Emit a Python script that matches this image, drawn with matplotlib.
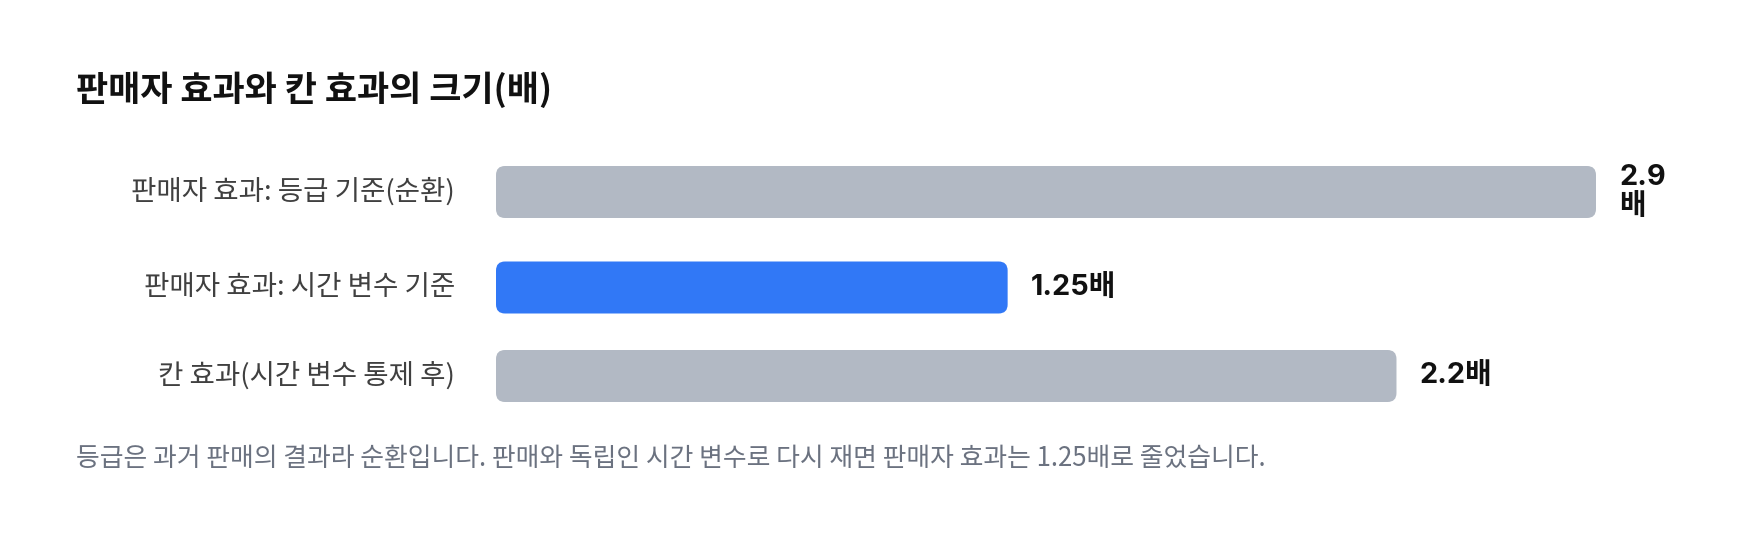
import matplotlib
matplotlib.use("Agg")
import matplotlib.pyplot as plt
from matplotlib.patches import FancyBboxPatch
from matplotlib import transforms

plt.rcParams['font.family'] = ['Noto Sans CJK KR', 'DejaVu Sans']

# data
categories = ["판매자 효과: 등급 기준(순환)", "판매자 효과: 시간 변수 기준", "칸 효과(시간 변수 통제 후)"]
values = [2.9, 1.25, 2.2]
value_labels = ["2.9배", "1.25배", "2.2배"]
highlight = [False, True, False]

title = "판매자 효과와 칸 효과의 크기(배)"
note = "등급은 과거 판매의 결과라 순환입니다. 판매와 독립인 시간 변수로 다시 재면 판매자 효과는 1.25배로 줄었습니다."

# layout in pixels
W, H = 1760, 536
track_left, track_w = 496, 1187
bar_h, line_h, row_gap = 52, 33, 36.5
first_top = 159
reserve_px = 87          # room kept for a value label at the end of the track
radius = 9

grey = "#b2b9c4"
blue = "#3178f6"

fig = plt.figure(figsize=(W / 100, H / 100), dpi=100)
ax = fig.add_axes([track_left / W, 0, track_w / W, 1])
xmax = max(values)
ax.set_xlim(0, xmax)
ax.set_ylim(H, 0)
ax.axis("off")

x_per_px = xmax / track_w

# row positions: a wrapped value label makes its row taller
lens, texts, centers = [], [], []
top = first_top
for v, lab in zip(values, value_labels):
    length = v
    txt = lab
    if v / x_per_px > track_w - reserve_px:
        length = (track_w - reserve_px) * x_per_px
        txt = lab.replace("배", "\n배")
    row_h = max(bar_h, line_h * (txt.count("\n") + 1))
    centers.append(top + row_h / 2)
    lens.append(length)
    texts.append(txt)
    top += row_h + row_gap

lab_tr = transforms.offset_copy(ax.transData, fig=fig, x=-41, y=0, units='dots')
val_tr = transforms.offset_copy(ax.transData, fig=fig, x=23, y=0, units='dots')

for cat, length, txt, c, hl in zip(categories, lens, texts, centers, highlight):
    box = FancyBboxPatch((0, c - bar_h / 2), length, bar_h,
                         boxstyle="round,pad=0,rounding_size=%f" % (radius * x_per_px),
                         mutation_aspect=1 / x_per_px,
                         facecolor=blue if hl else grey, edgecolor="none")
    ax.add_patch(box)
    ax.text(0, c, cat, transform=lab_tr, ha="right", va="center",
            fontsize=19.85, color="#404040")
    ax.text(length, c, txt, transform=val_tr, ha="left", va="center",
            fontsize=20.8, fontweight="bold", color="#111111", linespacing=1.1,
            family=['Inter', 'Noto Sans CJK KR'])

fig.text(76 / W, 1 - 90 / H, title, ha="left", va="center",
         fontsize=25.2, fontweight="bold", color="#111111")
fig.text(76 / W, 1 - 458 / H, note, ha="left", va="center",
         fontsize=18.6, color="#6b7280")

fig.savefig("out.png", dpi=100, facecolor="white")
